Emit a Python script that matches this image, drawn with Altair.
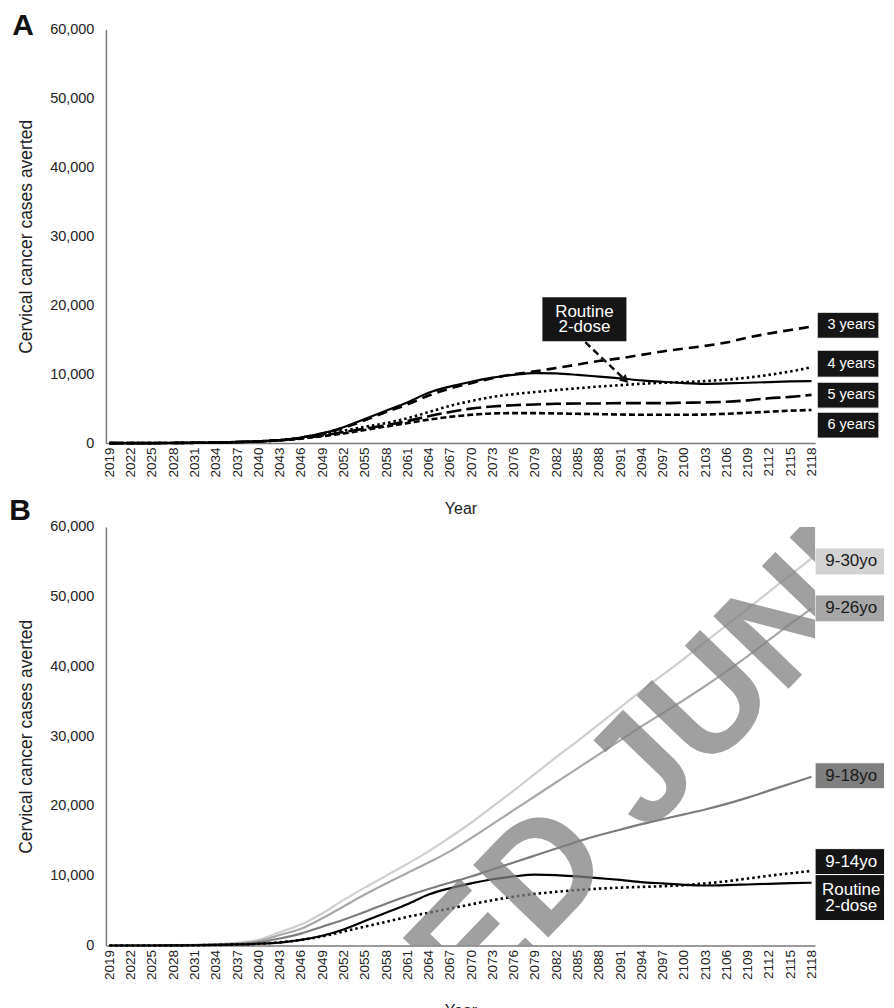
import altair as alt
import pandas as pd

FONT = "Liberation Sans"

# ---------------- data ----------------
years = list(range(2019, 2119, 3))

routine_2dose = [0, 0, 0, 20, 40, 80, 150, 250, 420, 800, 1400, 2300, 3500, 4700, 5900,
                 7300, 8200, 8900, 9500, 9900, 10150, 10100, 9900, 9650, 9400, 9100, 8900,
                 8700, 8600, 8650, 8750, 8850, 8950, 9000]
a_3years = [0, 0, 0, 20, 40, 80, 150, 250, 420, 800, 1400, 2200, 3300, 4500, 5600,
            6900, 7900, 8700, 9400, 10000, 10400, 10900, 11400, 11900, 12300, 12800, 13300,
            13700, 14100, 14600, 15300, 15900, 16400, 16900]
a_4years = [0, 0, 0, 20, 40, 80, 150, 250, 400, 750, 1250, 1800, 2350, 2900, 3600,
            4500, 5400, 6100, 6700, 7100, 7400, 7700, 7950, 8200, 8400, 8600, 8750,
            8850, 9000, 9200, 9500, 9900, 10400, 11000]
a_5years = [0, 0, 0, 20, 40, 80, 150, 250, 400, 700, 1100, 1600, 2100, 2600, 3200,
            3900, 4500, 5000, 5300, 5500, 5600, 5700, 5750, 5750, 5800, 5800, 5800,
            5850, 5900, 6000, 6200, 6500, 6700, 7000]
a_6years = [0, 0, 0, 20, 40, 80, 150, 250, 400, 650, 1000, 1400, 1900, 2400, 2900,
            3400, 3800, 4100, 4300, 4350, 4350, 4300, 4250, 4200, 4150, 4100, 4100,
            4100, 4150, 4250, 4400, 4550, 4700, 4800]

b_9_30 = [0, 0, 20, 50, 100, 200, 400, 800, 1900, 3000, 4600, 6500, 8300, 10000, 11700,
          13500, 15500, 17600, 19900, 22200, 24600, 27000, 29300, 31700, 34100, 36500,
          38800, 41100, 43500, 45900, 48300, 50700, 53100, 55500]
b_9_26 = [0, 0, 10, 30, 70, 150, 300, 650, 1500, 2400, 3900, 5600, 7300, 8900, 10400,
          11900, 13500, 15400, 17400, 19400, 21400, 23400, 25400, 27400, 29400, 31400,
          33300, 35200, 37200, 39300, 41500, 43800, 46100, 48300]
b_9_18 = [0, 0, 0, 20, 50, 100, 200, 450, 1000, 1700, 2700, 3700, 4800, 6000, 7100,
          8100, 9000, 9900, 10900, 11900, 12900, 13900, 14900, 15800, 16600, 17400,
          18100, 18800, 19500, 20300, 21200, 22200, 23200, 24200]
b_9_14 = [0, 0, 0, 20, 40, 80, 150, 250, 450, 800, 1300, 2000, 2700, 3400, 4100,
          4700, 5300, 5900, 6500, 7000, 7400, 7700, 7950, 8150, 8300, 8400, 8500,
          8650, 8900, 9200, 9600, 10000, 10350, 10700]

# end-of-line label boxes (value spans) and texts
a_labels = ["3 years", "4 years", "5 years", "6 years"]
a_label_top = [18980, 13480, 8840, 4490]
a_label_bot = [15210, 9560, 5070, 720]

b_labels = ["9-30yo", "9-26yo", "9-18yo", "9-14yo", "Routine\n2-dose"]
b_label_top = [57000, 50260, 26200, 13890, 10170]
b_label_bot = [53130, 46400, 22480, 10170, 3580]
b_box_fill = ["#d2d2d2", "#a6a6a6", "#7f7f7f", "#141414", "#141414"]
b_text_fill = ["#1a1a1a", "#1a1a1a", "#1a1a1a", "#ffffff", "#ffffff"]

# call-out "Routine 2-dose" in panel A
callout_text = "Routine\n2-dose"
callout_year = [2080.05, 2091.9]
callout_val = [21150, 14780]
arrow_year = [2086.1, 2091.6]
arrow_val = [14640, 9270]

watermark_text = "TED JUNE"   # visible part of the "RETRACTED JUNE ..." stamp

y_ticks = [0, 10000, 20000, 30000, 40000, 50000, 60000]
x_domain = [2018.5, 2118.5]
box_year_a = [2118.8, 2127.5]
box_year_b = [2118.5, 2128.3]
text_year = 2123.6

W = 710

X_AXIS = alt.Axis(values=years, format="d", labelAngle=270, title="Year",
                  labelOverlap=False, labelFlush=False, labelPadding=4,
                  labelFontSize=13.5, titleFontSize=16, titleFontWeight="normal",
                  titleY=70, titleBaseline="alphabetic")
Y_AXIS = alt.Axis(values=y_ticks, format=",d", title="Cervical cancer cases averted",
                  labelPadding=12, labelFontSize=14.5, titleFontSize=17.5,
                  titleFontWeight="normal", titleX=-79, titleBaseline="middle")
X_SCALE = alt.Scale(domain=x_domain, nice=False, zero=False)
Y_SCALE = alt.Scale(domain=[0, 60000], nice=False)


def xq(field):
    return alt.X(f"{field}:Q", scale=X_SCALE, axis=X_AXIS)


def yq(field):
    return alt.Y(f"{field}:Q", scale=Y_SCALE, axis=Y_AXIS)


def series_df(vals):
    return pd.DataFrame({"year": years, "value": vals})


def line(vals, color="black", width=2.2, dash=None):
    kw = dict(color=color, strokeWidth=width, clip=False, interpolate="monotone")
    if dash is not None:
        kw["strokeDash"] = dash
    return alt.Chart(series_df(vals)).mark_line(**kw).encode(x=xq("year"), y=yq("value"))


def boxes(labels, tops, bots, span, fills, tcolors, fsize):
    df = pd.DataFrame({"label": labels, "top": tops, "bot": bots,
                       "fill": fills, "tcolor": tcolors})
    df["mid"] = (df["top"] + df["bot"]) / 2
    df["x1"] = span[0]
    df["x2"] = span[1]
    df["tx"] = text_year
    df["lines"] = df["label"].str.count("\n") + 1
    rect = alt.Chart(df).mark_rect(stroke="white", strokeWidth=1).encode(
        x=xq("x1"), x2="x2:Q", y=yq("top"), y2="bot:Q", fill=alt.Fill("fill:N", scale=None))
    single = alt.Chart(df[df["lines"] == 1]).mark_text(
        font=FONT, fontSize=fsize, align="center", baseline="middle").encode(
        x=xq("tx"), y=yq("mid"), text="label:N", color=alt.Color("tcolor:N", scale=None))
    layers = [rect, single]
    multi_df = df[df["lines"] > 1]
    if len(multi_df):
        layers.append(alt.Chart(multi_df).mark_text(
            font=FONT, fontSize=fsize, align="center", baseline="middle", lineBreak="\n",
            lineHeight=fsize - 1, dy=-(fsize - 1) / 2).encode(
            x=xq("tx"), y=yq("mid"), text="label:N", color=alt.Color("tcolor:N", scale=None)))
    return alt.layer(*layers)


def panel_letter(letter, dx, dy):
    return alt.Chart(pd.DataFrame({"t": [letter]})).mark_text(
        font=FONT, fontSize=30, fontWeight="bold", align="center", baseline="alphabetic",
        color="#111").encode(text="t:N", x=alt.value(dx), y=alt.value(dy))


# ---------------- panel A ----------------
a_lines = (line(a_6years, dash=[6, 3], width=2.6)
           + line(a_5years, dash=[15, 5], width=2.6)
           + line(a_4years, dash=[2.5, 3], width=2.6)
           + line(a_3years, dash=[10, 6], width=2.6)
           + line(routine_2dose, width=2.2))

a_boxes = boxes(a_labels, a_label_top, a_label_bot, box_year_a,
                ["#151515"] * 4, ["#ffffff"] * 4, 14.5)

callout_df = pd.DataFrame({"x1": [callout_year[0]], "x2": [callout_year[1]],
                           "top": [callout_val[0]], "bot": [callout_val[1]],
                           "tx": [(callout_year[0] + callout_year[1]) / 2],
                           "ty": [(callout_val[0] + callout_val[1]) / 2],
                           "label": [callout_text]})
callout_rect = alt.Chart(callout_df).mark_rect(color="#151515").encode(
    x=xq("x1"), x2="x2:Q", y=yq("top"), y2="bot:Q")
callout_txt = alt.Chart(callout_df).mark_text(
    font=FONT, fontSize=17, color="white", align="center", baseline="middle",
    lineBreak="\n", lineHeight=15.5, dy=-7.5).encode(x=xq("tx"), y=yq("ty"), text="label:N")
arrow_df = pd.DataFrame({"year": arrow_year, "value": arrow_val})
arrow_line = alt.Chart(arrow_df).mark_line(color="#111", strokeWidth=2.5,
                                           strokeDash=[7, 4]).encode(
    x=xq("year"), y=yq("value"))
arrow_head = alt.Chart(arrow_df.tail(1)).mark_point(
    shape="triangle", filled=True, color="#111", size=90, angle=135, opacity=1).encode(
    x=xq("year"), y=yq("value"))

panel_a = alt.layer(a_lines, a_boxes, callout_rect, callout_txt, arrow_line, arrow_head,
                    panel_letter("A", -83, 5)).properties(width=W, height=414)

# ---------------- panel B ----------------
b_lines = (line(b_9_30, color="#cfcfcf", width=2.2)
           + line(b_9_26, color="#a9a9a9", width=2.2)
           + line(b_9_18, color="#7c7c7c", width=2.2)
           + line(b_9_14, dash=[2.5, 3], width=2.6)
           + line(routine_2dose, width=2.2))
b_boxes = boxes(b_labels, b_label_top, b_label_bot, box_year_b,
                b_box_fill, b_text_fill, 17)

watermark = alt.Chart(pd.DataFrame({"t": [watermark_text]})).mark_text(
    font=FONT, fontSize=152, fontWeight="bold", angle=314, align="left",
    baseline="alphabetic", color="#808080", opacity=0.75, clip=True).encode(
    text="t:N", x=alt.value(301), y=alt.value(558))

panel_b = alt.layer(b_lines, b_boxes, panel_letter("B", -86, -7), watermark).properties(
    width=W, height=419)

chart = alt.vconcat(panel_a, panel_b, spacing=84, bounds="flush").properties(
    padding={"left": 1, "top": 2, "right": 0, "bottom": 5}
).configure_view(stroke=None).configure_axis(
    grid=False, ticks=False, tickSize=0, domainColor="#7a7a7a", domainWidth=1.5,
    labelFont=FONT, titleFont=FONT, labelColor="#222", titleColor="#222"
).configure_axisX(labelOverlap=False).configure_text(font=FONT)

chart.save("out.html", embed_options={"renderer": "svg", "actions": False})
